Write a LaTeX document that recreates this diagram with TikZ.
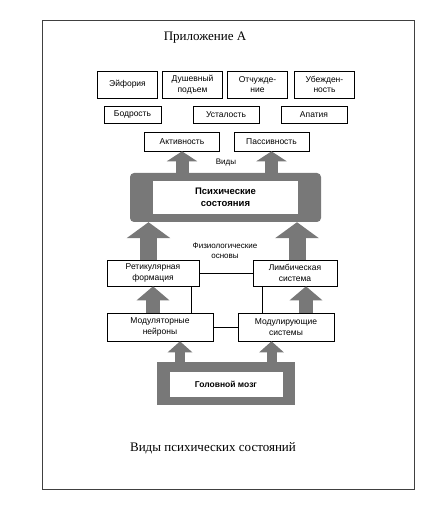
\documentclass[tikz,border=0pt]{standalone}
\usepackage{fontspec}
\setmainfont{Liberation Serif}
\setsansfont{Liberation Sans}
\usetikzlibrary{arrows.meta}
\definecolor{stategray}{RGB}{120,120,120}
\begin{document}
\begin{tikzpicture}[x=1pt, y=-1pt,
    box/.style={draw=black, line width=0.6pt, fill=white, align=center, inner sep=1pt, font=\sffamily\fontsize{8.5}{10.5}\selectfont},
    inbox/.style={fill=white, align=center, inner sep=1pt, font=\sffamily\bfseries\fontsize{#1}{11.5}\selectfont},
    grayframe/.style={fill=stategray, inner sep=0pt},
    tag/.style={align=center, font=\sffamily\fontsize{8}{10}\selectfont},
    fatarrow/.style n args={3}{draw=stategray, line width=#1, -{Triangle[width=#2, length=#3]}},
    line/.style={draw=black, line width=0.6pt}]
  \useasboundingbox (0,0) rectangle (442,518);
  \node[draw=black!75, line width=0.8pt, minimum width=372pt, minimum height=469pt] (page) at (228,254.5) {};
  \node[font=\fontsize{13}{15}\selectfont] (title) at (205,38) {Приложение А};
  \node[font=\fontsize{13}{15}\selectfont] (caption) at (213,448) {Виды психических состояний};

  \node[box, minimum width=60pt, minimum height=27pt] (euph) at (127.5,84.5) {Эйфория};
  \node[box, minimum width=60pt, minimum height=27pt] (uplift) at (192.5,84.5) {Душевный\\подъем};
  \node[box, minimum width=60pt, minimum height=27pt] (alien) at (257.5,84.5) {Отчужде-\\ние};
  \node[box, minimum width=60pt, minimum height=27pt] (belief) at (324.5,84.5) {Убежден-\\ность};
  \node[box, minimum width=57pt, minimum height=17pt] (vigor) at (132.5,114.5) {Бодрость};
  \node[box, minimum width=66pt, minimum height=17pt] (tired) at (226,114.5) {Усталость};
  \node[box, minimum width=66pt, minimum height=17pt] (apathy) at (314,114.5) {Апатия};
  \node[box, minimum width=75pt, minimum height=19pt] (active) at (182,141.5) {Активность};
  \node[box, minimum width=75pt, minimum height=19pt] (passive) at (271.5,141.5) {Пассивность};
  \node[tag] (kinds) at (226,163) {Виды};

  \node[grayframe, rounded corners=4pt, minimum width=191pt, minimum height=49pt] (stateframe) at (225.5,197.5) {};
  \node[inbox=9.5, minimum width=145pt, minimum height=33pt] (states) at (225.5,197.5) {Психические\\состояния};
  \node[tag] (basis) at (225,251) {Физиологические\\основы};

  \node[box, minimum width=92pt, minimum height=26pt] (retic) at (153,273) {Ретикулярная\\формация};
  \node[box, minimum width=84pt, minimum height=26pt] (limbic) at (295,273) {Лимбическая\\система};
  \node[box, minimum width=106pt, minimum height=28pt] (neurons) at (160,327) {Модуляторные\\нейроны};
  \node[box, minimum width=96pt, minimum height=28pt] (modsys) at (286,327) {Модулирующие\\системы};

  \node[grayframe, minimum width=138pt, minimum height=43pt] (brainframe) at (226,383.5) {};
  \node[inbox=8.5, minimum width=113pt, minimum height=25pt] (brain) at (226,384.5) {Головной мозг};

  \coordinate (lup) at ([xshift=-4.5pt]retic.north);
  \coordinate (rup) at ([xshift=2pt]limbic.north);
  \coordinate (rmid) at ([xshift=11pt]limbic.south);
  \coordinate (lbot) at ([xshift=20pt]neurons.south);
  \coordinate (rbot) at ([xshift=-14.5pt]modsys.south);
  \coordinate (lvert) at ([xshift=-8.5pt]retic.south east);
  \coordinate (rvert) at ([xshift=9.5pt]limbic.south west);

  % arrows
  \draw[fatarrow={13pt}{30pt}{10pt}] (active.south |- stateframe.north) -- (active.south);
  \draw[fatarrow={13pt}{30pt}{10pt}] (passive.south |- stateframe.north) -- (passive.south);
  \draw[fatarrow={17pt}{43pt}{16pt}] (lup) -- (lup |- stateframe.south);
  \draw[fatarrow={17pt}{43pt}{16pt}] (rup) -- (rup |- stateframe.south);
  \draw[fatarrow={14pt}{32pt}{14pt}] (retic.south |- neurons.north) -- (retic.south);
  \draw[fatarrow={14pt}{32pt}{14pt}] (rmid |- modsys.north) -- (rmid);
  \draw[fatarrow={10pt}{24pt}{11pt}] (lbot |- brainframe.north) -- (lbot);
  \draw[fatarrow={10pt}{24pt}{11pt}] (rbot |- brainframe.north) -- (rbot);

  % links
  \draw[line] (retic) -- (limbic);
  \draw[line] (neurons) -- (modsys);
  \draw[line] (lvert) -- (lvert |- neurons.north);
  \draw[line] (rvert) -- (rvert |- modsys.north);
\end{tikzpicture}
\end{document}
